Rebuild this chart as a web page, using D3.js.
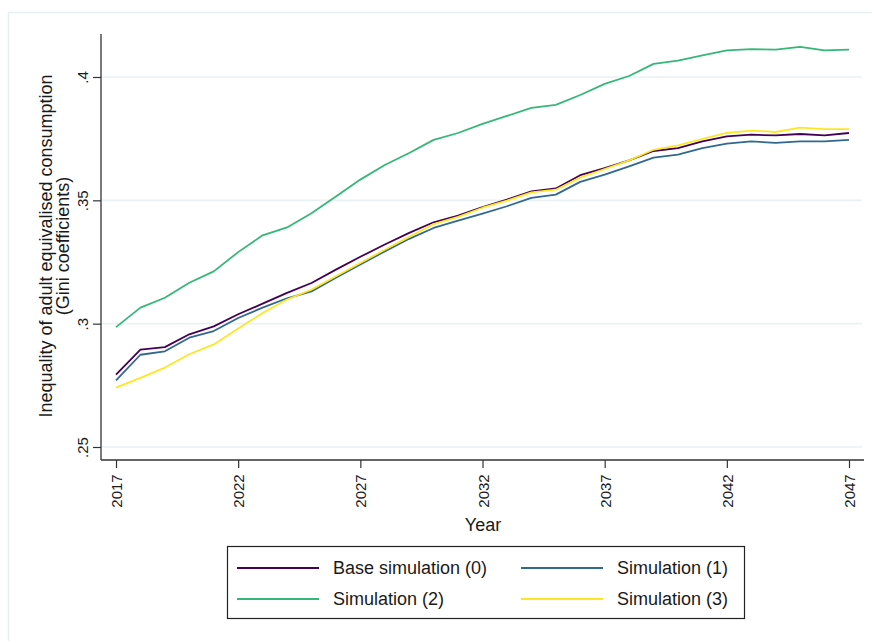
<!DOCTYPE html>
<html>
<head>
<meta charset="utf-8">
<script src="https://cdn.jsdelivr.net/npm/d3@7"></script>
<style>
  body { margin: 0; background: #fff; }
  text { font-family: Arial, "Liberation Sans", sans-serif; fill: #1a1a1a; }
</style>
</head>
<body>
<div id="chart"></div>
<script>
var years = d3.range(2017, 2048);

var base0 = [0.2793, 0.2895, 0.2905, 0.2957, 0.2989, 0.3038, 0.3081, 0.3125, 0.3165, 0.3219,
             0.3271, 0.3321, 0.3368, 0.3411, 0.3438, 0.3473, 0.3503, 0.3536, 0.3548, 0.3602,
             0.3631, 0.3662, 0.3700, 0.3712, 0.3739, 0.3759, 0.3766, 0.3763, 0.3769, 0.3763, 0.3773];
var sim1 = [0.2770, 0.2874, 0.2888, 0.2943, 0.2970, 0.3023, 0.3065, 0.3103, 0.3131, 0.3186,
            0.3240, 0.3293, 0.3344, 0.3388, 0.3418, 0.3446, 0.3476, 0.3510, 0.3523, 0.3575,
            0.3604, 0.3638, 0.3673, 0.3685, 0.3712, 0.3730, 0.3739, 0.3733, 0.3739, 0.3739, 0.3745];
var sim2 = [0.2986, 0.3065, 0.3105, 0.3166, 0.3212, 0.3290, 0.3358, 0.3390, 0.3448, 0.3516,
            0.3584, 0.3643, 0.3692, 0.3745, 0.3773, 0.3810, 0.3842, 0.3875, 0.3887, 0.3927,
            0.3972, 0.4004, 0.4053, 0.4066, 0.4088, 0.4108, 0.4113, 0.4111, 0.4122, 0.4108, 0.4111];
var sim3 = [0.2741, 0.2780, 0.2822, 0.2876, 0.2916, 0.2980, 0.3043, 0.3098, 0.3138, 0.3192,
            0.3246, 0.3300, 0.3352, 0.3404, 0.3433, 0.3470, 0.3499, 0.3532, 0.3543, 0.3592,
            0.3627, 0.3662, 0.3705, 0.3723, 0.3749, 0.3773, 0.3783, 0.3777, 0.3795, 0.3789, 0.3789];

var seriesNames = ["Base simulation (0)", "Simulation (1)", "Simulation (2)", "Simulation (3)"];
var seriesColors = ["#440154", "#31688e", "#35b779", "#fde725"];
var yTicks = [0.25, 0.3, 0.35, 0.4];
var xTicks = [2017, 2022, 2027, 2032, 2037, 2042, 2047];

function init() {
    var w = 872, h = 641;
    var left = 101, right = 864, top = 34, bottom = 460;

    var svg = d3.select("#chart").append("svg")
        .attr("width", w)
        .attr("height", h);

    // outer graph region border
    svg.append("rect")
        .attr("x", 8.5).attr("y", 12.5)
        .attr("width", w + 20).attr("height", h + 20)
        .attr("fill", "#fff")
        .attr("stroke", "#e6eef1")
        .attr("stroke-width", 1.5);

    var xScale = d3.scaleLinear().domain([2017, 2047]).range([116, 849]);
    var yScale = d3.scaleLinear().domain([0.25, 0.4]).range([447, 77]);

    // gridlines
    svg.append("g").selectAll("line")
        .data(yTicks)
        .enter().append("line")
        .attr("x1", left).attr("x2", right - 2)
        .attr("y1", function(d) { return yScale(d); })
        .attr("y2", function(d) { return yScale(d); })
        .attr("stroke", "#eaf1f3")
        .attr("stroke-width", 1.6);

    // y axis
    var yAxis = d3.axisLeft(yScale)
        .tickValues(yTicks)
        .tickSize(8)
        .tickFormat(function(d) { return d3.format(".2~f")(d).replace(/^0/, ""); });
    var gy = svg.append("g")
        .attr("transform", "translate(" + left + ",0)")
        .call(yAxis);
    gy.select(".domain").remove();
    gy.selectAll(".tick line").attr("stroke", "#333").attr("stroke-width", 1.2);
    gy.selectAll(".tick text")
        .attr("font-size", 15)
        .attr("text-anchor", "middle")
        .attr("dy", null)
        .attr("x", null)
        .attr("transform", "translate(-19,0) rotate(-90)")
        .attr("dominant-baseline", "central");

    // x axis
    var xAxis = d3.axisBottom(xScale)
        .tickValues(xTicks)
        .tickSize(8)
        .tickFormat(d3.format("d"));
    var gx = svg.append("g")
        .attr("transform", "translate(0," + bottom + ")")
        .call(xAxis);
    gx.select(".domain").remove();
    gx.selectAll(".tick line").attr("stroke", "#333").attr("stroke-width", 1.2);
    gx.selectAll(".tick text")
        .attr("font-size", 15)
        .attr("text-anchor", "middle")
        .attr("y", null)
        .attr("dy", null)
        .attr("transform", "translate(0,31) rotate(-90)")
        .attr("dominant-baseline", "central");

    // axis lines
    svg.append("line")
        .attr("x1", left).attr("x2", left)
        .attr("y1", top).attr("y2", bottom)
        .attr("stroke", "#333").attr("stroke-width", 1.3);
    svg.append("line")
        .attr("x1", left).attr("x2", right)
        .attr("y1", bottom).attr("y2", bottom)
        .attr("stroke", "#333").attr("stroke-width", 1.3);

    // lines
    var allSeries = [base0, sim1, sim2, sim3];
    var line = d3.line()
        .x(function(d, i) { return xScale(years[i]); })
        .y(function(d) { return yScale(d); });

    svg.append("g").selectAll("path")
        .data(allSeries)
        .enter().append("path")
        .attr("d", line)
        .attr("fill", "none")
        .attr("stroke", function(d, i) { return seriesColors[i]; })
        .attr("stroke-width", 1.8)
        .attr("stroke-linejoin", "round");

    // axis titles
    svg.append("text")
        .attr("x", 483).attr("y", 531)
        .attr("text-anchor", "middle")
        .attr("font-size", 18)
        .text("Year");

    var yt = svg.append("g").attr("transform", "translate(0,246) rotate(-90)");
    yt.append("text")
        .attr("x", 0).attr("y", 52)
        .attr("text-anchor", "middle")
        .attr("font-size", 18)
        .text("Inequality of adult equivalised consumption");
    yt.append("text")
        .attr("x", 0).attr("y", 69)
        .attr("text-anchor", "middle")
        .attr("font-size", 18)
        .text("(Gini coefficients)");

    // legend
    var lg = svg.append("g");
    lg.append("rect")
        .attr("x", 227.5).attr("y", 546.5)
        .attr("width", 517).attr("height", 72)
        .attr("fill", "#fff")
        .attr("stroke", "#222").attr("stroke-width", 1.2);

    var legendPos = [[237, 568], [521, 568], [237, 599], [521, 599]];
    seriesNames.forEach(function(name, i) {
        var p = legendPos[i];
        lg.append("line")
            .attr("x1", p[0]).attr("x2", p[0] + 82)
            .attr("y1", p[1]).attr("y2", p[1])
            .attr("stroke", seriesColors[i])
            .attr("stroke-width", 1.8);
        lg.append("text")
            .attr("x", p[0] + 96).attr("y", p[1])
            .attr("dominant-baseline", "central")
            .attr("font-size", 18)
            .text(name);
    });
}
window.onload = init;
</script>
</body>
</html>
